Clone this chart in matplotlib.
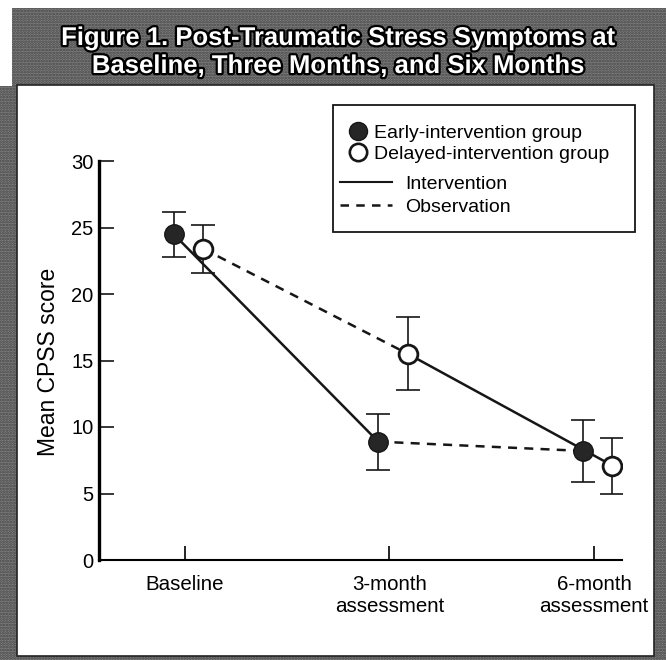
import matplotlib
matplotlib.use("Agg")
import matplotlib.pyplot as plt
import matplotlib.patches as patches
import matplotlib.patheffects as pe
from matplotlib.lines import Line2D

# --- data ---
categories = ["Baseline", "3-month\nassessment", "6-month\nassessment"]
early_mean = [24.5, 8.9, 8.2]
early_err = [1.7, 2.1, 2.3]
delayed_mean = [23.4, 15.5, 7.1]
delayed_err = [1.8, 2.75, 2.1]

title_lines = ["Figure 1. Post-Traumatic Stress Symptoms at",
               "Baseline, Three Months, and Six Months"]

W, H = 666, 660
plt.rcParams["font.family"] = ["Liberation Sans", "DejaVu Sans"]
fig = plt.figure(figsize=(W / 100, H / 100), dpi=100, facecolor="white")


def px_rect(x0, y0, x1, y1, zorder=-5, **kw):
    # rectangle given in pixels from the top-left corner
    r = patches.Rectangle((x0 / W, 1 - y1 / H), (x1 - x0) / W, (y1 - y0) / H,
                          transform=fig.transFigure, zorder=zorder, **kw)
    fig.patches.append(r)
    return r


# scanned grey frame + title bar
plt.rcParams["hatch.linewidth"] = 1.3
gray = dict(facecolor="#808080", edgecolor="#444444", hatch="......", lw=0)
px_rect(12, 8, 666, 86, **gray)
px_rect(0, 86, 17, 660, **gray)
px_rect(653, 86, 666, 660, **gray)
px_rect(17, 655, 653, 660, **gray)
px_rect(17, 85, 654, 656, facecolor="white", edgecolor="#222222", lw=1.2)

for line, base in zip(title_lines, [45, 73]):
    fig.text(0.509, 1 - base / H, line, ha="center", va="baseline",
             fontsize=18.5, fontweight="bold", color="white",
             path_effects=[pe.withStroke(linewidth=3.2, foreground="black")])

# --- axes ---
ax = fig.add_axes([99 / W, 100 / H, 523 / W, 399 / H])
ax.set_facecolor("none")
x = list(range(len(categories)))
xe = [v - 0.055 for v in x]
xd = [v + 0.09 for v in x]

ink = "#161616"
solid = dict(color=ink, lw=1.8, zorder=2)
dashed = dict(color=ink, lw=1.8, ls=(0, (3.6, 2.9)), zorder=2)
ax.plot(xe[0:2], early_mean[0:2], **solid)
ax.plot(xd[1:3], delayed_mean[1:3], **solid)
ax.plot(xd[0:2], delayed_mean[0:2], **dashed)
ax.plot(xe[1:3], early_mean[1:3], **dashed)

ax.errorbar(xe, early_mean, yerr=early_err, fmt="none", ecolor=ink,
            elinewidth=1.2, capsize=8.5, capthick=1.2, zorder=3)
ax.errorbar(xd, delayed_mean, yerr=delayed_err, fmt="none", ecolor=ink,
            elinewidth=1.2, capsize=8.5, capthick=1.2, zorder=3)
ax.plot(xe, early_mean, "o", ms=14, mfc="#262626", mec=ink, mew=1, ls="none", zorder=4)
ax.plot(xd, delayed_mean, "o", ms=13.5, mfc="white", mec=ink, mew=2.0, ls="none", zorder=4)

ax.set_xlim(-0.42, 2.137)
ax.set_ylim(0, 30)
ax.set_yticks(range(0, 31, 5))
ax.set_xticks(x)
ax.set_xticklabels(categories, fontsize=14.8, linespacing=1.15)
ax.tick_params(axis="y", direction="in", length=11, width=1.1, labelsize=14.5, pad=4)
ax.tick_params(axis="x", direction="in", length=10, width=1.2, pad=11)
for s in ["top", "right"]:
    ax.spines[s].set_visible(False)
ax.spines["left"].set_linewidth(2.4)
ax.spines["bottom"].set_linewidth(1.5)
ax.set_ylabel("Mean CPSS score", fontsize=16.5)
ax.yaxis.set_label_coords(-0.075, 0.496)

# --- legend: markers and line styles in one box ---
marker_handles = [
    Line2D([], [], marker="o", ls="none", ms=13, mfc="#262626", mec=ink),
    Line2D([], [], marker="o", ls="none", ms=12.5, mfc="white", mec=ink, mew=1.9),
]
line_handles = [
    Line2D([], [], color=ink, lw=1.5),
    Line2D([], [], color=ink, lw=1.8, ls=(0, (3.4, 2.9))),
]
leg1 = fig.legend(marker_handles, ["Early-intervention group", "Delayed-intervention group"],
                  loc="upper left", bbox_to_anchor=(348 / W, 1 - 124 / H), frameon=False,
                  fontsize=14, borderpad=0, borderaxespad=0, handlelength=1.0,
                  handletextpad=0.35, labelspacing=0.2)
leg2 = fig.legend(line_handles, ["Intervention", "Observation"],
                  loc="upper left", bbox_to_anchor=(340 / W, 1 - 175 / H), frameon=False,
                  fontsize=14, borderpad=0, borderaxespad=0, handlelength=2.68,
                  handletextpad=0.67, labelspacing=0.3)
px_rect(333, 105, 635, 232, zorder=5, fill=False, edgecolor=ink, lw=1.3)

fig.savefig("out.png", dpi=100, facecolor=fig.get_facecolor())
